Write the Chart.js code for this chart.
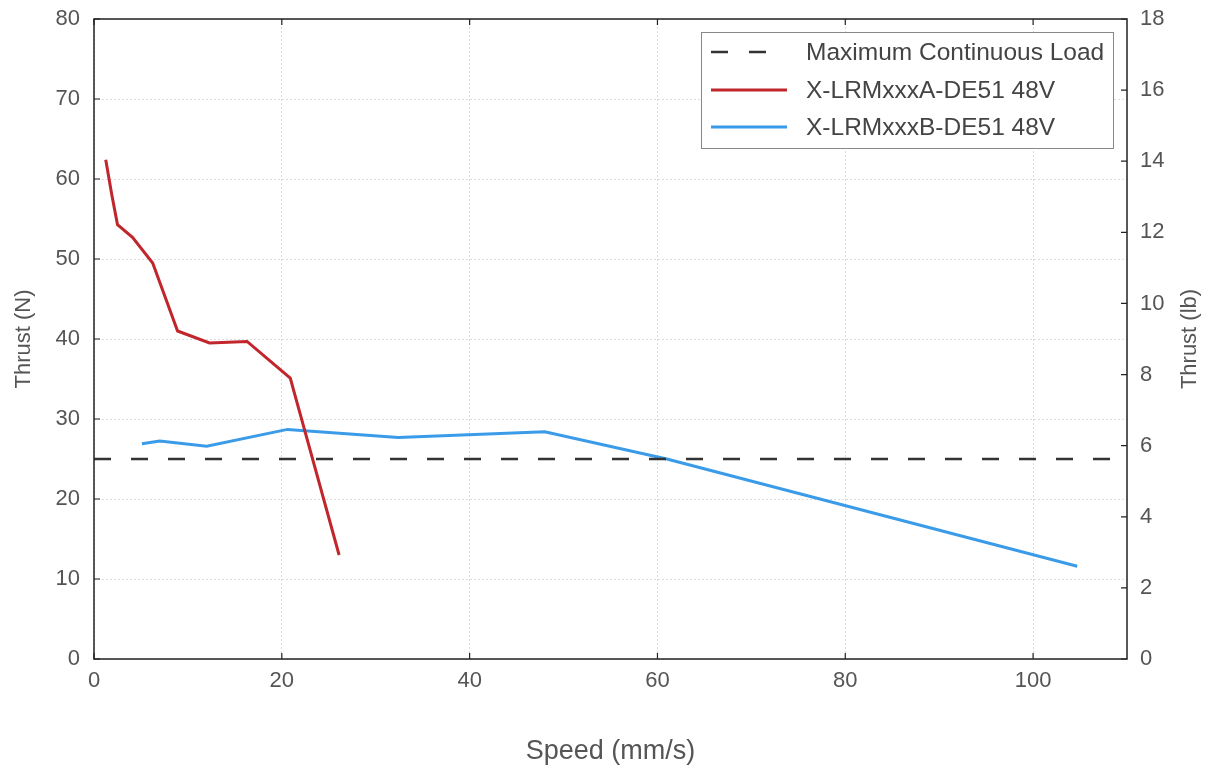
<!DOCTYPE html>
<html>
<head>
<meta charset="utf-8">
<script src="https://cdn.jsdelivr.net/npm/chart.js@4/dist/chart.umd.min.js"></script>
<style>
  html, body { margin: 0; padding: 0; background: #fff; }
  #wrap { width: 1215px; height: 778px; }
</style>
</head>
<body>
<div id="wrap"><canvas id="thrustChart" width="1215" height="778"></canvas></div>
<script>
// values
const seriesNames = ['Maximum Continuous Load', 'X-LRMxxxA-DE51 48V', 'X-LRMxxxB-DE51 48V'];

const loadSpeed = [0, 110];
const loadThrust = [25, 25];

const aSpeed = [1.25, 1.9, 2.5, 4.1, 6.25, 8.9, 12.3, 16.3, 20.9, 26.1];
const aThrust = [62.4, 58.0, 54.3, 52.7, 49.5, 41.0, 39.5, 39.7, 35.1, 13.0];

const bSpeed = [5.1, 7.0, 12.0, 20.6, 32.4, 48.0, 61.0, 104.7];
const bThrust = [26.9, 27.25, 26.6, 28.7, 27.7, 28.4, 25.0, 11.6];

const xTicks = [0, 20, 40, 60, 80, 100];
const yTicksN = [0, 10, 20, 30, 40, 50, 60, 70, 80];
const yTicksLb = [0, 2, 4, 6, 8, 10, 12, 14, 16, 18];

const FONT = "'Liberation Sans', Arial, Helvetica, sans-serif";
const TEXT_COLOR = '#555';

const toPoints = (xs, ys) => xs.map((x, i) => ({ x: x, y: ys[i] }));

// frame, inward ticks, right axis title and the boxed legend inside the plot
const framePlugin = {
  id: 'frame',
  afterDraw(chart) {
    const { ctx, chartArea: a, scales } = chart;
    ctx.save();
    ctx.strokeStyle = '#222';
    ctx.lineWidth = 1.5;
    ctx.strokeRect(a.left, a.top, a.right - a.left, a.bottom - a.top);

    const len = 6;
    ctx.lineWidth = 1.2;
    ctx.beginPath();
    xTicks.forEach(v => {
      const px = scales.x.getPixelForValue(v);
      ctx.moveTo(px, a.bottom); ctx.lineTo(px, a.bottom - len);
      ctx.moveTo(px, a.top); ctx.lineTo(px, a.top + len);
    });
    yTicksN.forEach(v => {
      const py = scales.y.getPixelForValue(v);
      ctx.moveTo(a.left, py); ctx.lineTo(a.left + len, py);
    });
    yTicksLb.forEach(v => {
      const py = scales.y2.getPixelForValue(v);
      ctx.moveTo(a.right, py); ctx.lineTo(a.right - len, py);
    });
    ctx.stroke();

    // right axis title, reading bottom to top like the left one
    ctx.save();
    ctx.translate(1190, (a.top + a.bottom) / 2);
    ctx.rotate(-Math.PI / 2);
    ctx.fillStyle = TEXT_COLOR;
    ctx.font = '22px ' + FONT;
    ctx.textAlign = 'center';
    ctx.textBaseline = 'middle';
    ctx.fillText('Thrust (lb)', 0, 0);
    ctx.restore();

    // legend
    const bx = 701, by = 32, bw = 412, bh = 116;
    ctx.fillStyle = '#fff';
    ctx.fillRect(bx, by, bw, bh);
    ctx.strokeStyle = '#888';
    ctx.lineWidth = 1;
    ctx.strokeRect(bx + 0.5, by + 0.5, bw, bh);

    const rows = [52, 90, 127];
    chart.data.datasets.forEach((ds, i) => {
      const y = rows[i];
      const dashed = !!ds.borderDash;
      ctx.beginPath();
      ctx.strokeStyle = ds.borderColor;
      ctx.lineWidth = ds.borderWidth;
      ctx.setLineDash(dashed ? [17, 21] : []);
      ctx.moveTo(711, y);
      ctx.lineTo(dashed ? 767 : 787, y);
      ctx.stroke();
      ctx.setLineDash([]);
      ctx.fillStyle = '#444';
      ctx.font = '24.5px ' + FONT;
      ctx.textAlign = 'left';
      ctx.textBaseline = 'middle';
      ctx.fillText(ds.label, 806, y + 1);
    });
    ctx.restore();
  }
};

const gridOpts = { color: '#dcdcdc', lineWidth: 1, drawTicks: false };
const tickFont = { family: FONT, size: 22 };
const yTickFont = { family: FONT, size: 22, lineHeight: 0.4 };

new Chart(document.getElementById('thrustChart'), {
  type: 'line',
  data: {
    datasets: [
      {
        label: seriesNames[0],
        data: toPoints(loadSpeed, loadThrust),
        borderColor: '#333',
        borderWidth: 2.5,
        borderDash: [17, 20],
        pointRadius: 0,
        fill: false
      },
      {
        label: seriesNames[1],
        data: toPoints(aSpeed, aThrust),
        borderColor: '#c0262b',
        borderWidth: 3,
        pointRadius: 0,
        fill: false
      },
      {
        label: seriesNames[2],
        data: toPoints(bSpeed, bThrust),
        borderColor: '#3a9be9',
        borderWidth: 3,
        pointRadius: 0,
        fill: false
      }
    ]
  },
  options: {
    responsive: false,
    animation: false,
    layout: { padding: { top: 19, left: 0, right: 0, bottom: 0 } },
    plugins: {
      legend: { display: false },
      tooltip: { enabled: false }
    },
    scales: {
      x: {
        type: 'linear',
        min: 0,
        max: 110,
        afterBuildTicks: s => { s.ticks = xTicks.map(v => ({ value: v })); },
        afterFit: s => { s.height = 119; },
        grid: gridOpts,
        border: { display: false, dash: [2, 2] },
        ticks: { font: tickFont, color: TEXT_COLOR, padding: 9, maxRotation: 0 },
        title: { display: true, text: 'Speed (mm/s)', font: { family: FONT, size: 27 }, color: TEXT_COLOR, padding: { top: 0, bottom: 10 } }
      },
      y: {
        type: 'linear',
        position: 'left',
        min: 0,
        max: 80,
        afterBuildTicks: s => { s.ticks = yTicksN.map(v => ({ value: v })); },
        afterFit: s => { s.width = 94; },
        grid: gridOpts,
        border: { display: false, dash: [2, 2] },
        ticks: { font: yTickFont, color: TEXT_COLOR, padding: 14 },
        title: { display: true, text: 'Thrust (N)', font: { family: FONT, size: 22 }, color: TEXT_COLOR, padding: { top: 11, bottom: 0 } }
      },
      y2: {
        type: 'linear',
        position: 'right',
        min: 0,
        max: 18,
        afterBuildTicks: s => { s.ticks = yTicksLb.map(v => ({ value: v })); },
        afterFit: s => { s.width = 88; },
        grid: { drawOnChartArea: false, drawTicks: false },
        border: { display: false },
        ticks: { font: yTickFont, color: TEXT_COLOR, padding: 13 }
      }
    }
  },
  plugins: [framePlugin]
});
</script>
</body>
</html>
